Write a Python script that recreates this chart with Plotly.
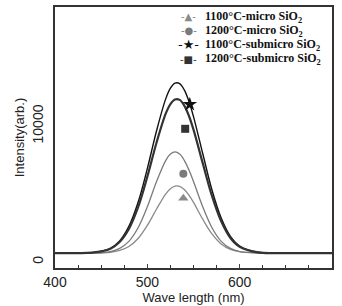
import plotly.graph_objects as go

# wavelength samples (nm)
wavelength = [400, 420, 440, 460, 470, 480, 490, 500, 510, 520, 525, 530, 535,
              540, 545, 550, 560, 570, 580, 590, 600, 620, 640, 660, 700]

# intensities (arb.)
sub1100 = [650, 655, 690, 1010, 1550, 2620, 4390, 6875, 9660, 12020, 12790, 13160, 13125,
           12660, 11830, 10700, 7980, 5300, 3235, 1890, 1180, 715, 660, 652, 650]
sub1200 = [650, 655, 686, 980, 1470, 2430, 4030, 6280, 8795, 10930, 11620, 11960, 11930,
           11510, 10760, 9740, 7275, 4860, 2990, 1770, 1125, 707, 658, 652, 650]
mic1200 = [650, 652, 660, 770, 1000, 1520, 2520, 4060, 5920, 7480, 7940, 8100, 7940,
           7480, 6780, 5920, 4060, 2520, 1520, 1000, 770, 665, 655, 652, 650]
mic1100 = [650, 652, 658, 720, 850, 1140, 1730, 2690, 3900, 5020, 5390, 5580, 5560,
           5330, 4920, 4390, 3150, 2070, 1330, 930, 760, 660, 654, 652, 650]

# single marker positions labelling each curve
marker_x = {"mic1100": 539, "mic1200": 539, "sub1100": 546, "sub1200": 541}
marker_y = {"mic1100": 4700, "mic1200": 6500, "sub1100": 11600, "sub1200": 9800}

y_tickvals = [0, 10000]
y_ticktext = ["0", "10000"]
x_tickvals = [400, 500, 600, 700]

series = [
    ("mic1100", "1100°C-micro SiO<sub>2</sub>", mic1100, "#8a8a8a", 1.3, "triangle-up", 9, "▲"),
    ("mic1200", "1200°C-micro SiO<sub>2</sub>", mic1200, "#7a7a7a", 1.3, "circle", 8, "●"),
    ("sub1100", "1100°C-submicro SiO<sub>2</sub>", sub1100, "#111111", 1.4, "star", 11, "★"),
    ("sub1200", "1200°C-submicro SiO<sub>2</sub>", sub1200, "#333333", 2.2, "square", 8, "■"),
]

fig = go.Figure()
for key, name, vals, color, width, sym, msize, glyph in series:
    fig.add_trace(go.Scatter(x=wavelength, y=vals, mode="lines", name=name,
                             line=dict(color=color, width=width, shape="spline", smoothing=1.0),
                             showlegend=False, hoverinfo="skip"))
for key, name, vals, color, width, sym, msize, glyph in series:
    fig.add_trace(go.Scatter(x=[marker_x[key]], y=[marker_y[key]], mode="markers", name=name,
                             marker=dict(symbol=sym, size=msize, color=color), showlegend=False))

# hand-drawn legend (compact, as in the reference)
row_y = [0.962, 0.909, 0.856, 0.800]
for (key, name, vals, color, width, sym, msize, glyph), ry in zip(series, row_y):
    gsize = 13 if glyph == "★" else 10
    fig.add_annotation(xref="paper", yref="paper", x=0.483, y=ry, xanchor="center", yanchor="middle",
                       text="-" + glyph + "-", showarrow=False,
                       font=dict(family="DejaVu Sans", size=gsize, color=color))
    fig.add_annotation(xref="paper", yref="paper", x=0.535, y=ry, xanchor="left", yanchor="middle",
                       text="<b>" + name + "</b>", showarrow=False,
                       font=dict(family="Liberation Serif, Times New Roman, serif", size=12, color="#111"))

fig.update_layout(
    width=342, height=306,
    margin=dict(l=55, r=10, t=5, b=38),
    paper_bgcolor="white", plot_bgcolor="white",
    showlegend=False,
    font=dict(family="Liberation Sans, Arial, sans-serif", color="#222", size=13),
    xaxis=dict(range=[400, 700], tickvals=x_tickvals, ticks="inside", ticklen=4,
               showline=True, linecolor="#333", linewidth=1.5, mirror=True, showgrid=False, zeroline=False,
               minor=dict(dtick=25, ticks="inside", ticklen=3, tickcolor="#333"),
               tickfont=dict(size=14), title=dict(text="Wave length (nm)", font=dict(size=13), standoff=2)),
    yaxis=dict(range=[-440, 18760], tickvals=y_tickvals, ticktext=y_ticktext, tickangle=-90, ticks="",
               ticklabelstandoff=5,
               showline=True, linecolor="#333", linewidth=1.5, mirror=True, showgrid=False, zeroline=False,
               tickfont=dict(size=14), title=dict(text="Intensity(arb.)", font=dict(size=13), standoff=2)),
)

fig.write_html("out.html")
